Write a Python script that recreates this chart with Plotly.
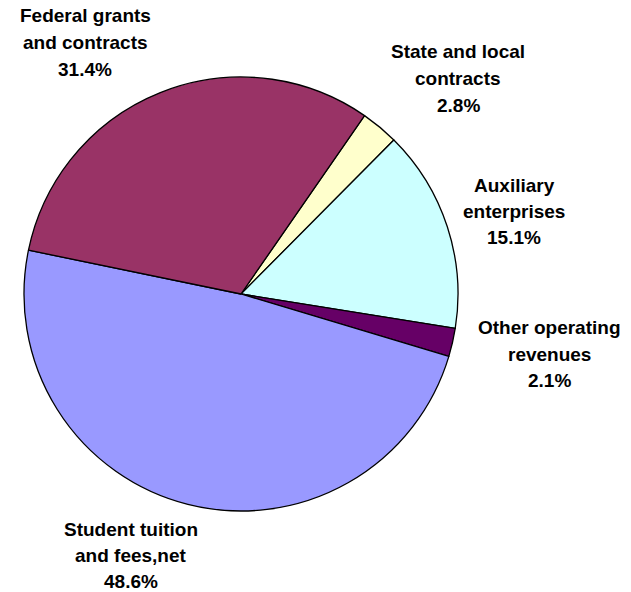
import plotly.graph_objects as go

categories = ["State and local contracts", "Auxiliary enterprises", "Other operating revenues",
              "Student tuition and fees,net", "Federal grants and contracts"]
values = [2.8, 15.1, 2.1, 48.6, 31.4]
colors = ["#FFFFCC", "#CCFFFF", "#660066", "#9999FF", "#993366"]
label_lines = [
    ["State and local", "contracts", "2.8%"],
    ["Auxiliary", "enterprises", "15.1%"],
    ["Other operating", "revenues", "2.1%"],
    ["Student tuition", "and fees,net", "48.6%"],
    ["Federal grants", "and contracts", "31.4%"],
]
# label line centre positions in pixels of the page (x, first-line y, line spacing)
label_pos = [(458, 52, 26.5), (514, 185, 26.5), (549, 327, 27), (131, 529, 26), (85, 16, 26.5)]

W, H = 631, 592
cx, cy, r = 241, 294, 217

def px(x):
    return x / W

def py(y):
    return 1 - y / H

fig = go.Figure(go.Pie(
    labels=categories, values=values, sort=False, direction="clockwise",
    rotation=34.7, textinfo="none", hoverinfo="label+percent",
    marker=dict(colors=colors, line=dict(color="black", width=1.3)),
    domain=dict(x=[px(cx - r), px(cx + r)], y=[py(cy + r), py(cy - r)]),
    showlegend=False,
))

annotations = []
for lines, (x, y0, dy) in zip(label_lines, label_pos):
    for i, line in enumerate(lines):
        annotations.append(dict(
            x=px(x), y=py(y0 + i * dy), xref="paper", yref="paper",
            text=line, showarrow=False, xanchor="center", yanchor="middle",
            font=dict(family="Liberation Sans, Arial", size=19, color="black", weight="bold"),
        ))

fig.update_layout(
    width=W, height=H, margin=dict(l=0, r=0, t=0, b=0),
    paper_bgcolor="white", plot_bgcolor="white", annotations=annotations,
)
fig.write_html("out.html", config={"displayModeBar": False},
               post_script="document.body.style.margin='0';")
